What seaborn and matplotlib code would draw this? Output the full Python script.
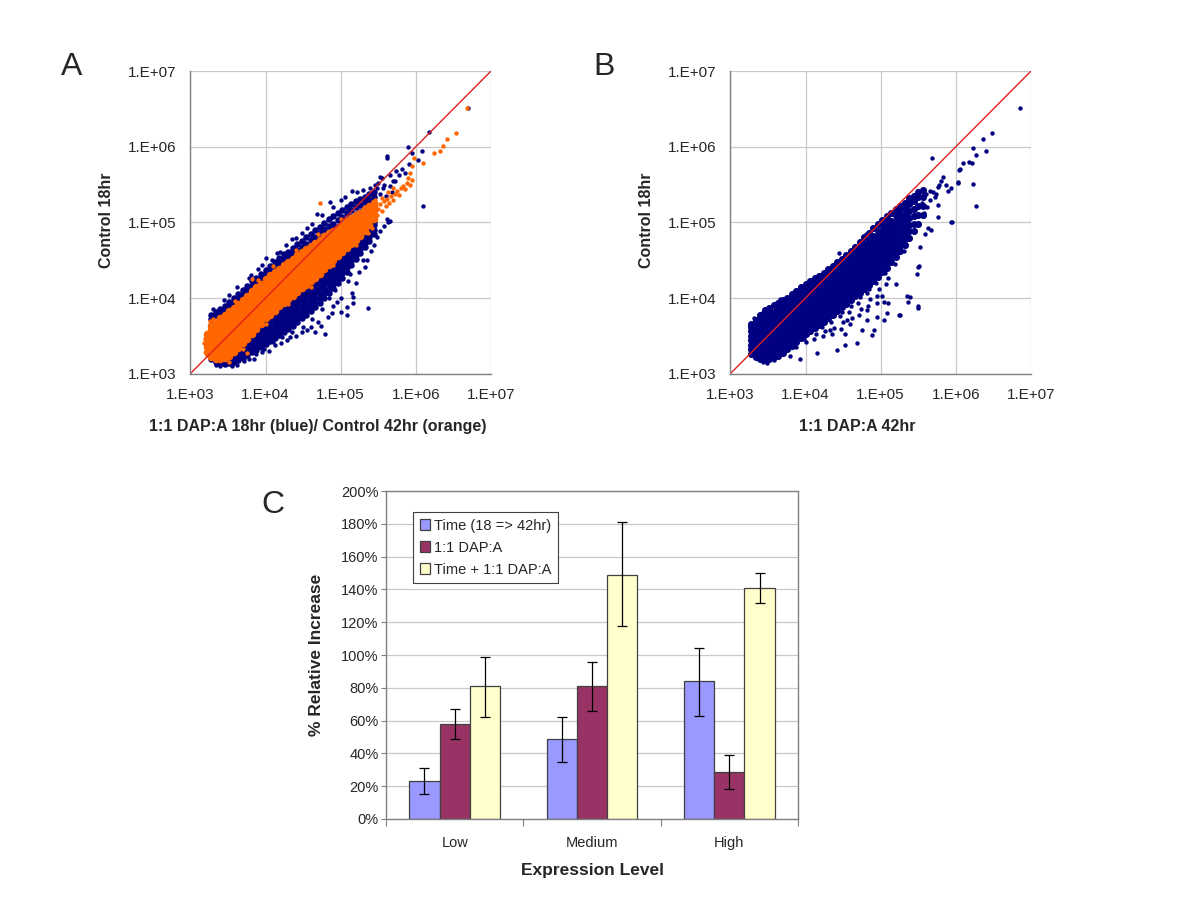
import numpy as np
import pandas as pd
import matplotlib
matplotlib.use("Agg")
import matplotlib.pyplot as plt
from matplotlib.ticker import LogLocator, FixedLocator, NullFormatter, FuncFormatter, MultipleLocator
import seaborn as sns

# --- PANEL C DATA (percent relative increase) ---
LEVELS = ["Low", "Medium", "High"]
SERIES = ["Time (18 => 42hr)", "1:1 DAP:A", "Time + 1:1 DAP:A"]
TIME_VALS = [23, 48.5, 84]
DAPA_VALS = [58, 81, 28.5]
BOTH_VALS = [81, 149, 141]
TIME_LO = [15, 34.5, 63]
TIME_HI = [31, 62, 104]
DAPA_LO = [48.5, 66, 18]
DAPA_HI = [67, 96, 39]
BOTH_LO = [62.5, 117.5, 132]
BOTH_HI = [99, 181, 150]
BAR_COLORS = ["#9999FF", "#993366", "#FFFFCC"]

# --- PANELS A/B DATA (log10 intensities) ---
DIAG = [1e3, 1e7]

# dense part of the orange cloud in A: (log10 x, [log10 y ...])
A_ORANGE_CORE = [
    (3.22, [3.29, 3.35, 3.41, 3.47, 3.53]),
    (3.28, [3.22, 3.28, 3.34, 3.40, 3.46, 3.52, 3.58, 3.63]),
    (3.34, [3.19, 3.25, 3.31, 3.37, 3.43, 3.49, 3.55, 3.61, 3.68]),
    (3.40, [3.20, 3.26, 3.32, 3.38, 3.44, 3.50, 3.56, 3.62, 3.68, 3.73]),
    (3.46, [3.21, 3.27, 3.33, 3.39, 3.45, 3.51, 3.57, 3.63, 3.69, 3.75, 3.78]),
    (3.52, [3.24, 3.30, 3.36, 3.42, 3.48, 3.54, 3.60, 3.66, 3.72, 3.78, 3.83]),
    (3.58, [3.29, 3.35, 3.41, 3.47, 3.53, 3.59, 3.65, 3.71, 3.77, 3.83, 3.87]),
    (3.64, [3.34, 3.40, 3.46, 3.52, 3.58, 3.64, 3.70, 3.76, 3.82, 3.88, 3.92]),
    (3.70, [3.40, 3.46, 3.52, 3.58, 3.64, 3.70, 3.76, 3.82, 3.88, 3.94, 3.97]),
    (3.76, [3.46, 3.52, 3.58, 3.64, 3.70, 3.76, 3.82, 3.88, 3.94, 4.00, 4.03]),
    (3.82, [3.52, 3.58, 3.64, 3.70, 3.76, 3.82, 3.88, 3.94, 4.00, 4.06, 4.09]),
    (3.88, [3.59, 3.65, 3.71, 3.77, 3.83, 3.89, 3.95, 4.01, 4.07, 4.14]),
    (3.94, [3.66, 3.72, 3.78, 3.84, 3.90, 3.96, 4.02, 4.08, 4.14, 4.19]),
    (4.00, [3.73, 3.79, 3.85, 3.91, 3.97, 4.03, 4.09, 4.15, 4.21, 4.25]),
    (4.06, [3.78, 3.84, 3.90, 3.96, 4.02, 4.08, 4.14, 4.20, 4.26, 4.30]),
    (4.12, [3.83, 3.89, 3.95, 4.01, 4.07, 4.13, 4.19, 4.25, 4.31, 4.34]),
    (4.18, [3.89, 3.95, 4.01, 4.07, 4.13, 4.19, 4.25, 4.31, 4.37, 4.39]),
    (4.24, [3.94, 4.00, 4.06, 4.12, 4.18, 4.24, 4.30, 4.36, 4.42, 4.44]),
    (4.30, [3.99, 4.05, 4.11, 4.17, 4.23, 4.29, 4.35, 4.41, 4.47]),
    (4.36, [4.03, 4.09, 4.15, 4.21, 4.27, 4.33, 4.39, 4.45, 4.52]),
    (4.42, [4.08, 4.14, 4.20, 4.26, 4.32, 4.38, 4.44, 4.50, 4.57]),
    (4.48, [4.13, 4.19, 4.25, 4.31, 4.37, 4.43, 4.49, 4.55, 4.61]),
    (4.54, [4.17, 4.23, 4.29, 4.35, 4.41, 4.47, 4.53, 4.59, 4.65]),
    (4.60, [4.22, 4.28, 4.34, 4.40, 4.46, 4.52, 4.58, 4.64, 4.69]),
    (4.66, [4.27, 4.33, 4.39, 4.45, 4.51, 4.57, 4.63, 4.69, 4.73]),
    (4.72, [4.32, 4.38, 4.44, 4.50, 4.56, 4.62, 4.68, 4.74, 4.77]),
    (4.78, [4.38, 4.44, 4.50, 4.56, 4.62, 4.68, 4.74, 4.80, 4.82]),
    (4.84, [4.44, 4.50, 4.56, 4.62, 4.68, 4.74, 4.80, 4.86]),
    (4.90, [4.50, 4.56, 4.62, 4.68, 4.74, 4.80, 4.86, 4.89]),
    (4.96, [4.55, 4.61, 4.67, 4.73, 4.79, 4.85, 4.91, 4.93]),
    (5.02, [4.61, 4.67, 4.73, 4.79, 4.85, 4.91, 4.97]),
    (5.08, [4.66, 4.72, 4.78, 4.84, 4.90, 4.96, 5.02]),
    (5.14, [4.72, 4.78, 4.84, 4.90, 4.96, 5.02, 5.06]),
    (5.20, [4.77, 4.83, 4.89, 4.95, 5.01, 5.07, 5.10]),
    (5.26, [4.82, 4.88, 4.94, 5.00, 5.06, 5.13]),
    (5.32, [4.88, 4.94, 5.00, 5.06, 5.12, 5.17]),
    (5.38, [4.96, 5.02, 5.08, 5.14, 5.21]),
    (5.44, [5.04, 5.10, 5.16, 5.22, 5.25]),
]

A_ORANGE_SPARSE = [
    (3.20, 3.46), (3.18, 3.40), (3.22, 3.25), (3.26, 3.70), (3.30, 3.72), (3.51, 3.16),
    (3.75, 3.27), (3.82, 4.25), (4.72, 5.26), (3.60, 3.96), (3.90, 4.24), (4.10, 4.42),
    (4.40, 4.64), (4.70, 4.84), (5.00, 5.04), (3.70, 3.33), (4.00, 3.66), (4.30, 3.92),
    (4.60, 4.15), (4.90, 4.43), (5.20, 4.70), (5.48, 5.10), (5.50, 5.18), (5.52, 5.24),
    (5.55, 5.15), (5.57, 5.28), (5.60, 5.22), (5.62, 5.31), (5.64, 5.26), (5.67, 5.35),
    (5.70, 5.30), (5.72, 5.38), (5.75, 5.42), (5.78, 5.36), (5.80, 5.45), (5.83, 5.48),
    (5.86, 5.44), (5.88, 5.52), (5.92, 5.50), (5.95, 5.56), (5.97, 5.85), (5.92, 5.65),
    (5.95, 5.74), (6.10, 5.78), (6.24, 5.91), (6.32, 5.94), (6.36, 6.01), (6.41, 6.10),
    (6.53, 6.18), (6.68, 6.51), (5.90, 5.58), (5.55, 5.32), (5.63, 5.40), (5.69, 5.45),
    (5.46, 5.30), (5.41, 4.92), (5.36, 4.86),
]

# blue cloud in A: upper and lower flanks around the orange band
A_BLUE_CORE = [
    (3.28, [3.20, 3.64, 3.72, 3.78]),
    (3.34, [3.16, 3.69, 3.76, 3.82]),
    (3.40, [3.14, 3.19, 3.74, 3.80, 3.86]),
    (3.46, [3.13, 3.19, 3.79, 3.85, 3.90]),
    (3.52, [3.14, 3.20, 3.84, 3.90, 3.95]),
    (3.58, [3.16, 3.22, 3.27, 3.88, 3.94, 4.00]),
    (3.64, [3.18, 3.24, 3.30, 3.93, 3.99, 4.05]),
    (3.70, [3.21, 3.27, 3.33, 3.38, 3.98, 4.04, 4.10]),
    (3.76, [3.25, 3.31, 3.37, 3.43, 4.04, 4.10, 4.16]),
    (3.82, [3.28, 3.34, 3.40, 3.46, 3.50, 4.10, 4.16, 4.22]),
    (3.88, [3.31, 3.37, 3.43, 3.49, 3.55, 4.15, 4.21, 4.27]),
    (3.94, [3.35, 3.41, 3.47, 3.53, 3.59, 3.63, 4.20, 4.26, 4.32]),
    (4.00, [3.39, 3.45, 3.51, 3.57, 3.63, 3.69, 4.26, 4.32, 4.37]),
    (4.06, [3.43, 3.49, 3.55, 3.61, 3.67, 3.73, 4.31, 4.37, 4.42]),
    (4.12, [3.47, 3.53, 3.59, 3.65, 3.71, 3.77, 4.35, 4.41, 4.47]),
    (4.18, [3.51, 3.57, 3.63, 3.69, 3.75, 3.81, 3.86, 4.40, 4.46, 4.53]),
    (4.24, [3.55, 3.61, 3.67, 3.73, 3.79, 3.85, 3.90, 4.45, 4.51, 4.58]),
    (4.30, [3.59, 3.65, 3.71, 3.77, 3.83, 3.89, 3.95, 4.49, 4.55, 4.61]),
    (4.36, [3.63, 3.69, 3.75, 3.81, 3.87, 3.93, 3.99, 4.53, 4.59, 4.66]),
    (4.42, [3.68, 3.74, 3.80, 3.86, 3.92, 3.98, 4.04, 4.58, 4.64, 4.71]),
    (4.48, [3.73, 3.79, 3.85, 3.91, 3.97, 4.03, 4.09, 4.62, 4.68, 4.76]),
    (4.54, [3.78, 3.84, 3.90, 3.96, 4.02, 4.08, 4.13, 4.66, 4.72, 4.81]),
    (4.60, [3.83, 3.89, 3.95, 4.01, 4.07, 4.13, 4.18, 4.70, 4.77, 4.85]),
    (4.66, [3.88, 3.94, 4.00, 4.06, 4.12, 4.18, 4.23, 4.74, 4.81, 4.90]),
    (4.72, [3.94, 4.00, 4.06, 4.12, 4.18, 4.24, 4.28, 4.78, 4.86, 4.94]),
    (4.78, [4.00, 4.06, 4.12, 4.18, 4.24, 4.30, 4.34, 4.83, 4.91, 4.99]),
    (4.84, [4.06, 4.12, 4.18, 4.24, 4.30, 4.36, 4.40, 4.87, 4.95, 5.04]),
    (4.90, [4.13, 4.19, 4.25, 4.31, 4.37, 4.43, 4.46, 4.90, 4.98, 5.08]),
    (4.96, [4.20, 4.26, 4.32, 4.38, 4.44, 4.50, 4.94, 5.03, 5.12]),
    (5.02, [4.27, 4.33, 4.39, 4.45, 4.51, 4.57, 4.98, 5.07, 5.16]),
    (5.08, [4.35, 4.41, 4.47, 4.53, 4.59, 4.63, 5.03, 5.12, 5.20]),
    (5.14, [4.43, 4.49, 4.55, 4.61, 4.67, 5.07, 5.16, 5.24]),
    (5.20, [4.51, 4.57, 4.63, 4.69, 4.73, 5.11, 5.20, 5.28]),
    (5.26, [4.59, 4.65, 4.71, 4.77, 5.14, 5.23, 5.31]),
    (5.32, [4.67, 4.73, 4.79, 4.84, 5.18, 5.27, 5.34]),
    (5.38, [4.75, 4.81, 4.87, 4.92, 5.22, 5.30, 5.37]),
    (5.44, [4.84, 4.90, 4.96, 5.01, 5.26, 5.33, 5.40]),
]

A_BLUE_SPARSE = [
    (3.25, 3.30), (3.26, 3.38), (3.28, 3.24), (3.34, 3.12), (3.30, 3.86), (3.45, 3.98),
    (3.52, 4.04), (3.62, 4.15), (3.66, 4.04), (3.78, 4.26), (3.81, 4.30), (3.90, 4.38),
    (3.95, 4.44), (4.01, 4.53), (4.08, 4.50), (4.15, 4.60), (4.19, 4.61), (4.27, 4.70),
    (4.35, 4.78), (4.41, 4.79), (4.48, 4.86), (4.55, 4.92), (4.62, 4.98), (4.68, 5.11),
    (4.75, 5.10), (4.86, 5.27), (4.90, 5.20), (5.00, 5.30), (5.06, 5.34), (5.15, 5.41),
    (5.22, 5.40), (5.30, 5.43), (5.39, 5.45), (5.45, 5.50), (5.50, 5.52), (5.55, 5.59),
    (5.61, 5.88), (5.62, 5.85), (5.70, 5.54), (5.81, 5.71), (5.90, 6.00), (5.95, 5.92),
    (6.08, 5.94), (6.18, 6.20), (6.70, 6.51), (5.91, 5.77), (6.03, 5.82), (5.58, 5.50),
    (5.48, 5.45), (5.66, 5.62), (5.74, 5.68), (5.52, 5.60), (5.52, 5.38), (5.56, 5.45),
    (5.60, 5.35), (5.65, 5.48), (5.68, 5.40), (5.72, 5.55), (5.78, 5.62), (5.85, 5.65),
    (3.40, 3.10), (3.55, 3.10), (3.62, 3.12), (3.72, 3.17), (3.85, 3.20), (3.95, 3.28),
    (4.05, 3.30), (4.12, 3.38), (4.20, 3.40), (4.28, 3.44), (4.33, 3.48), (4.40, 3.50),
    (4.48, 3.55), (4.55, 3.58), (4.60, 3.62), (4.66, 3.55), (4.70, 3.68), (4.74, 3.63),
    (4.79, 3.53), (4.83, 3.75), (4.88, 3.80), (4.90, 3.89), (4.95, 3.95), (5.00, 3.81),
    (5.01, 4.00), (5.08, 3.78), (5.08, 3.88), (5.10, 4.23), (5.15, 4.06), (5.16, 3.94),
    (5.16, 4.01), (5.21, 4.20), (5.25, 4.35), (5.30, 4.50), (5.32, 4.41), (5.35, 4.50),
    (5.37, 3.87), (5.40, 4.62), (5.44, 4.70), (5.48, 4.80), (5.52, 4.88), (5.58, 4.95),
    (5.63, 5.01), (5.66, 5.02), (5.61, 5.05), (6.10, 5.22), (5.20, 4.62), (5.05, 4.48),
    (4.98, 4.30), (4.85, 4.00), (4.75, 3.85), (4.62, 3.72), (4.50, 3.62), (4.35, 3.55),
    (4.22, 3.48), (4.10, 3.42), (3.98, 3.33), (3.88, 3.26), (3.78, 3.20), (4.92, 4.10),
    (5.12, 4.32),
]

# blue cloud in B
B_BLUE_CORE = [
    (3.28, [3.26, 3.32, 3.38, 3.44, 3.50, 3.56, 3.62, 3.66]),
    (3.34, [3.22, 3.28, 3.34, 3.40, 3.46, 3.52, 3.58, 3.64, 3.71]),
    (3.40, [3.20, 3.26, 3.32, 3.38, 3.44, 3.50, 3.56, 3.62, 3.68, 3.74, 3.78]),
    (3.46, [3.19, 3.25, 3.31, 3.37, 3.43, 3.49, 3.55, 3.61, 3.67, 3.73, 3.79, 3.84]),
    (3.52, [3.20, 3.26, 3.32, 3.38, 3.44, 3.50, 3.56, 3.62, 3.68, 3.74, 3.80, 3.87]),
    (3.58, [3.22, 3.28, 3.34, 3.40, 3.46, 3.52, 3.58, 3.64, 3.70, 3.76, 3.82, 3.91]),
    (3.64, [3.24, 3.30, 3.36, 3.42, 3.48, 3.54, 3.60, 3.66, 3.72, 3.78, 3.84, 3.90, 3.94]),
    (3.70, [3.27, 3.33, 3.39, 3.45, 3.51, 3.57, 3.63, 3.69, 3.75, 3.81, 3.87, 3.93, 3.97]),
    (3.76, [3.32, 3.38, 3.44, 3.50, 3.56, 3.62, 3.68, 3.74, 3.80, 3.86, 3.92, 4.00]),
    (3.82, [3.37, 3.43, 3.49, 3.55, 3.61, 3.67, 3.73, 3.79, 3.85, 3.91, 3.97, 4.05]),
    (3.88, [3.42, 3.48, 3.54, 3.60, 3.66, 3.72, 3.78, 3.84, 3.90, 3.96, 4.02, 4.09]),
    (3.94, [3.47, 3.53, 3.59, 3.65, 3.71, 3.77, 3.83, 3.89, 3.95, 4.01, 4.07, 4.14]),
    (4.00, [3.52, 3.58, 3.64, 3.70, 3.76, 3.82, 3.88, 3.94, 4.00, 4.06, 4.12, 4.18]),
    (4.06, [3.56, 3.62, 3.68, 3.74, 3.80, 3.86, 3.92, 3.98, 4.04, 4.10, 4.16, 4.22]),
    (4.12, [3.60, 3.66, 3.72, 3.78, 3.84, 3.90, 3.96, 4.02, 4.08, 4.14, 4.20, 4.26]),
    (4.18, [3.64, 3.70, 3.76, 3.82, 3.88, 3.94, 4.00, 4.06, 4.12, 4.18, 4.24, 4.29]),
    (4.24, [3.68, 3.74, 3.80, 3.86, 3.92, 3.98, 4.04, 4.10, 4.16, 4.22, 4.28, 4.33]),
    (4.30, [3.73, 3.79, 3.85, 3.91, 3.97, 4.03, 4.09, 4.15, 4.21, 4.27, 4.33, 4.38]),
    (4.36, [3.78, 3.84, 3.90, 3.96, 4.02, 4.08, 4.14, 4.20, 4.26, 4.32, 4.38, 4.42]),
    (4.42, [3.83, 3.89, 3.95, 4.01, 4.07, 4.13, 4.19, 4.25, 4.31, 4.37, 4.43, 4.47]),
    (4.48, [3.88, 3.94, 4.00, 4.06, 4.12, 4.18, 4.24, 4.30, 4.36, 4.42, 4.48, 4.52]),
    (4.54, [3.92, 3.98, 4.04, 4.10, 4.16, 4.22, 4.28, 4.34, 4.40, 4.46, 4.52, 4.57]),
    (4.60, [3.97, 4.03, 4.09, 4.15, 4.21, 4.27, 4.33, 4.39, 4.45, 4.51, 4.57, 4.62]),
    (4.66, [4.02, 4.08, 4.14, 4.20, 4.26, 4.32, 4.38, 4.44, 4.50, 4.56, 4.62, 4.68]),
    (4.72, [4.07, 4.13, 4.19, 4.25, 4.31, 4.37, 4.43, 4.49, 4.55, 4.61, 4.67, 4.74]),
    (4.78, [4.12, 4.18, 4.24, 4.30, 4.36, 4.42, 4.48, 4.54, 4.60, 4.66, 4.72, 4.80]),
    (4.84, [4.17, 4.23, 4.29, 4.35, 4.41, 4.47, 4.53, 4.59, 4.65, 4.71, 4.77, 4.86]),
    (4.90, [4.22, 4.28, 4.34, 4.40, 4.46, 4.52, 4.58, 4.64, 4.70, 4.76, 4.82, 4.92]),
    (4.96, [4.28, 4.34, 4.40, 4.46, 4.52, 4.58, 4.64, 4.70, 4.76, 4.82, 4.88, 4.98]),
    (5.02, [4.34, 4.40, 4.46, 4.52, 4.58, 4.64, 4.70, 4.76, 4.82, 4.88, 4.96, 5.03]),
    (5.08, [4.40, 4.46, 4.52, 4.58, 4.64, 4.70, 4.76, 4.82, 4.88, 4.94, 5.01, 5.08]),
    (5.14, [4.47, 4.53, 4.59, 4.65, 4.71, 4.77, 4.83, 4.89, 4.95, 5.02, 5.12]),
    (5.20, [4.54, 4.60, 4.66, 4.72, 4.78, 4.84, 4.90, 4.96, 5.03, 5.10, 5.17]),
    (5.26, [4.62, 4.69, 4.76, 4.83, 4.90, 4.97, 5.04, 5.11, 5.18, 5.22]),
    (5.32, [4.70, 4.78, 4.86, 4.94, 5.02, 5.10, 5.18, 5.26]),
    (5.38, [4.79, 4.88, 4.97, 5.06, 5.15, 5.24, 5.32]),
    (5.44, [4.88, 4.98, 5.08, 5.18, 5.28, 5.35]),
    (5.50, [4.98, 5.10, 5.22, 5.33, 5.40]),
    (5.56, [5.10, 5.22, 5.34, 5.43]),
]

B_BLUE_SPARSE = [
    (3.31, 3.74), (3.44, 3.82), (3.66, 3.99), (3.93, 4.15), (4.20, 4.30), (4.44, 4.60),
    (4.60, 4.63), (4.80, 4.84), (4.95, 4.97), (3.31, 3.33), (3.44, 3.16), (3.49, 3.14),
    (3.58, 3.18), (3.80, 3.24), (3.93, 3.20), (4.15, 3.27), (4.42, 3.31), (4.68, 3.40),
    (4.53, 3.38), (4.82, 3.71), (4.88, 3.51), (4.95, 3.75), (5.04, 3.95), (5.08, 3.80),
    (4.33, 3.58), (4.53, 3.53), (4.55, 3.71), (4.75, 3.58), (4.91, 3.58), (5.04, 3.71),
    (4.82, 3.84), (4.95, 3.93), (5.02, 4.02), (3.87, 3.35), (4.01, 3.42), (3.98, 3.46),
    (4.11, 3.46), (4.14, 3.52), (4.23, 3.50), (4.26, 3.57), (4.22, 3.62), (4.35, 3.53),
    (4.38, 3.61), (4.34, 3.68), (4.47, 3.59), (4.50, 3.68), (4.46, 3.76), (4.49, 3.82),
    (4.59, 3.66), (4.62, 3.74), (4.58, 3.82), (4.61, 3.90), (4.71, 3.77), (4.74, 3.86),
    (4.70, 3.94), (4.73, 4.01), (4.83, 3.90), (4.86, 3.99), (4.82, 4.07), (4.85, 4.12),
    (4.95, 4.03), (4.98, 4.12), (4.94, 4.20), (5.07, 4.18), (5.10, 4.27), (5.06, 4.33),
    (5.19, 4.45), (5.31, 4.62), (5.26, 3.78), (5.50, 3.89), (5.39, 4.01), (5.50, 4.41),
    (5.63, 4.92), (5.68, 5.85), (5.94, 5.01), (5.90, 5.41), (5.76, 5.23), (6.03, 5.53),
    (6.06, 5.71), (6.17, 5.80), (6.23, 5.51), (6.27, 5.21), (6.23, 5.98), (6.27, 5.89),
    (6.36, 6.10), (6.40, 5.94), (6.48, 6.18), (6.85, 6.51), (5.87, 5.49), (5.94, 5.45),
    (5.83, 5.60), (5.76, 5.47), (5.72, 5.34), (5.51, 4.42), (5.48, 4.32), (5.35, 4.02),
    (5.36, 3.95), (5.49, 3.87), (5.25, 3.77), (5.10, 3.93), (5.21, 4.19), (5.59, 4.85),
    (5.67, 4.90), (5.76, 5.07), (5.52, 4.68), (6.10, 5.79), (6.21, 5.79), (5.80, 5.55),
    (5.70, 5.40), (5.65, 5.30), (5.62, 5.20), (5.58, 5.12), (5.55, 5.25), (5.60, 5.38),
    (5.66, 5.42), (5.74, 5.38), (5.78, 5.50), (6.04, 5.69), (6.03, 5.52), (5.95, 5.01),
]

NAVY = "#000080"
ORANGE = "#FF6600"
GRID = "#C8C8C8"
AXIS_GRAY = "#808080"


def cols_to_xy(cols):
    xs, ys = [], []
    for lx, col in cols:
        xs += [lx] * len(col)
        ys += col
    return 10 ** np.array(xs), 10 ** np.array(ys)


def pts_to_xy(pts):
    arr = np.array(pts)
    return 10 ** arr[:, 0], 10 ** arr[:, 1]


def sci_fmt(v, _):
    return "1.E+%02d" % int(round(np.log10(v)))


def style_scatter_axes(ax, xlabel):
    ax.set_xscale("log")
    ax.set_yscale("log")
    ax.set_xlim(1e3, 1e7)
    ax.set_ylim(1e3, 1e7)
    for a in (ax.xaxis, ax.yaxis):
        a.set_major_locator(LogLocator(base=10))
        a.set_minor_locator(LogLocator(base=10, subs=range(2, 10)))
        a.set_major_formatter(FuncFormatter(sci_fmt))
        a.set_minor_formatter(NullFormatter())
    ax.grid(True, which="major", color=GRID, linewidth=0.9)
    ax.set_axisbelow(True)
    for s in ("top", "right"):
        ax.spines[s].set_visible(False)
    for s in ("left", "bottom"):
        ax.spines[s].set_color(AXIS_GRAY)
        ax.spines[s].set_linewidth(1.0)
    ax.tick_params(which="major", direction="inout", length=6, width=0.8, color=AXIS_GRAY,
                   labelsize=11, pad=7)
    ax.tick_params(which="minor", direction="in", length=4, width=0.7, color=AXIS_GRAY)
    ax.set_xlabel(xlabel, fontsize=11.5, fontweight="bold")
    ax.set_ylabel("Control 18hr", fontsize=11.5, fontweight="bold")
    ax.xaxis.set_label_coords(0.423, -0.150)
    ax.yaxis.set_label_coords(-0.254, 0.508)


sns.set_theme(style="white")
plt.rcParams["font.family"] = ["Liberation Sans", "DejaVu Sans"]

fig = plt.figure(figsize=(12, 9), dpi=100)
ax_a = fig.add_axes([0.1586, 0.5848, 0.2506, 0.3363])
ax_b = fig.add_axes([0.6086, 0.5848, 0.2506, 0.3363])
ax_c = fig.add_axes([0.3217, 0.0900, 0.3433, 0.3644])

# --- Panel A ---
bx, by = cols_to_xy(A_BLUE_CORE)
sns.scatterplot(x=bx, y=by, ax=ax_a, color=NAVY, s=22, linewidth=0, legend=False)
bx, by = pts_to_xy(A_BLUE_SPARSE)
sns.scatterplot(x=bx, y=by, ax=ax_a, color=NAVY, s=10, linewidth=0, legend=False)
ox, oy = cols_to_xy(A_ORANGE_CORE)
sns.scatterplot(x=ox, y=oy, ax=ax_a, color=ORANGE, s=30, linewidth=0, legend=False)
ox, oy = pts_to_xy(A_ORANGE_SPARSE)
sns.scatterplot(x=ox, y=oy, ax=ax_a, color=ORANGE, s=10, linewidth=0, legend=False)
ax_a.plot(DIAG, DIAG, color="#E02020", linewidth=1.0)
style_scatter_axes(ax_a, "1:1 DAP:A 18hr (blue)/ Control 42hr (orange)")

# --- Panel B ---
bx, by = cols_to_xy(B_BLUE_CORE)
sns.scatterplot(x=bx, y=by, ax=ax_b, color=NAVY, s=26, linewidth=0, legend=False)
bx, by = pts_to_xy(B_BLUE_SPARSE)
sns.scatterplot(x=bx, y=by, ax=ax_b, color=NAVY, s=10, linewidth=0, legend=False)
ax_b.plot(DIAG, DIAG, color="#E02020", linewidth=1.0)
style_scatter_axes(ax_b, "1:1 DAP:A 42hr")

# --- Panel C ---
df = pd.DataFrame({
    "level": LEVELS * 3,
    "series": [SERIES[0]] * 3 + [SERIES[1]] * 3 + [SERIES[2]] * 3,
    "value": TIME_VALS + DAPA_VALS + BOTH_VALS,
})
sns.barplot(data=df, x="level", y="value", hue="series", order=LEVELS, hue_order=SERIES,
            palette=BAR_COLORS, width=0.66, errorbar=None, edgecolor="#404040",
            linewidth=0.9, saturation=1, legend=False, ax=ax_c)

err_lo = [TIME_LO, DAPA_LO, BOTH_LO]
err_hi = [TIME_HI, DAPA_HI, BOTH_HI]
vals = [TIME_VALS, DAPA_VALS, BOTH_VALS]
for cont, v, lo, hi in zip(ax_c.containers, vals, err_lo, err_hi):
    xs = [b.get_x() + b.get_width() / 2 for b in cont]
    v = np.array(v)
    ax_c.errorbar(xs, v, yerr=[v - np.array(lo), np.array(hi) - v], fmt="none",
                  ecolor="black", elinewidth=0.9, capsize=3.5, capthick=0.9, zorder=5)

ax_c.set_ylim(0, 200)
ax_c.set_xlim(-0.5, 2.5)
ax_c.yaxis.set_major_locator(MultipleLocator(20))
ax_c.yaxis.set_major_formatter(FuncFormatter(lambda v, _: "%d%%" % round(v)))
ax_c.yaxis.grid(True, color=GRID, linewidth=0.9)
ax_c.set_axisbelow(True)
for s in ax_c.spines.values():
    s.set_color(AXIS_GRAY)
    s.set_linewidth(1.0)
ax_c.xaxis.set_minor_locator(FixedLocator([-0.5, 0.5, 1.5, 2.5]))
ax_c.tick_params(axis="x", which="major", length=0, labelsize=10.5, pad=12)
ax_c.tick_params(axis="x", which="minor", direction="out", length=5, width=0.8, color=AXIS_GRAY)
ax_c.tick_params(axis="y", which="major", direction="out", length=3.5, width=0.8,
                 color=AXIS_GRAY, labelsize=10.5, pad=2)
ax_c.tick_params(left=True, bottom=True, which="both")
ax_c.set_xlabel("Expression Level", fontsize=12.5, fontweight="bold")
ax_c.set_ylabel("% Relative Increase", fontsize=12.5, fontweight="bold")
ax_c.xaxis.set_label_coords(0.5, -0.134)
ax_c.yaxis.set_label_coords(-0.150, 0.5)

leg = ax_c.legend(ax_c.containers, SERIES, loc="upper left", bbox_to_anchor=(0.0655, 0.936),
                  borderaxespad=0, fontsize=10.5, frameon=True, fancybox=False,
                  framealpha=1, edgecolor="#404040", handlelength=0.7, handleheight=0.7,
                  handletextpad=0.3, labelspacing=0.55, borderpad=0.45)
leg.get_frame().set_linewidth(0.8)

# panel letters
fig.text(61 / 1200, 1 - 75 / 900, "A", fontsize=23, ha="left", va="baseline")
fig.text(593 / 1200, 1 - 75 / 900, "B", fontsize=23, ha="left", va="baseline")
fig.text(261 / 1200, 1 - 513 / 900, "C", fontsize=23, ha="left", va="baseline")

fig.savefig("out.png", dpi=100)
